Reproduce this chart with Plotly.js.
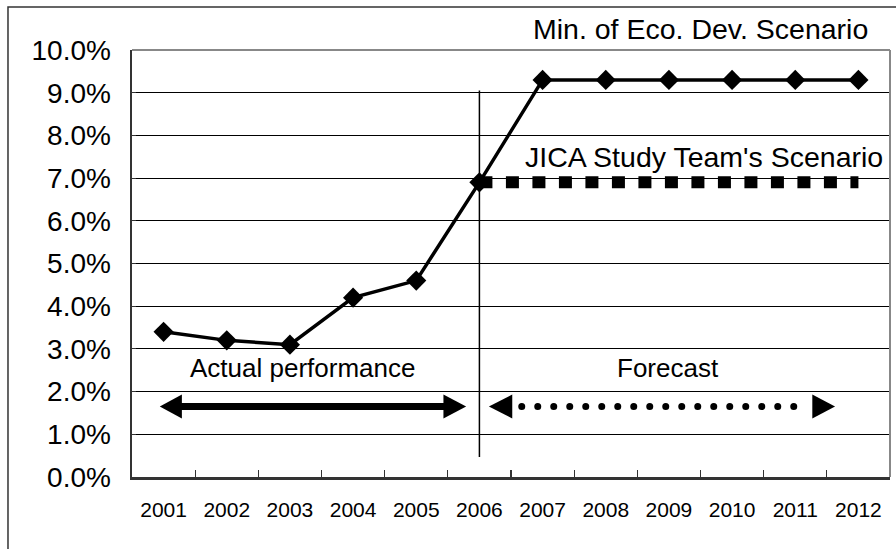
<!DOCTYPE html>
<html>
<head>
<meta charset="utf-8">
<script src="https://cdn.plot.ly/plotly-3.0.1.min.js"></script>
<style>
  html, body { margin: 0; padding: 0; background: #fff; }
  #chart { width: 896px; height: 549px; }
</style>
</head>
<body>
<div id="chart"></div>
<script>
// ---- data ----
const years = ['2001','2002','2003','2004','2005','2006','2007','2008','2009','2010','2011','2012'];
const minEcoDev = [3.4, 3.2, 3.1, 4.2, 4.6, 6.9, 9.3, 9.3, 9.3, 9.3, 9.3, 9.3];
const jicaStudy = [null, null, null, null, null, 6.9, 6.9, 6.9, 6.9, 6.9, 6.9, 6.9];
const yTicks = [0,1,2,3,4,5,6,7,8,9,10];
const yTickText = ['0.0%','1.0%','2.0%','3.0%','4.0%','5.0%','6.0%','7.0%','8.0%','9.0%','10.0%'];

const FONT = 'Liberation Sans, Arial, Helvetica, sans-serif';
const N = years.length;
// category index -> paper x
const px = i => (i + 0.5) / N;

function tri(tipIdx, baseIdx, y, h) {
  return 'M' + px(tipIdx) + ',' + y + ' L' + px(baseIdx) + ',' + (y + h) + ' L' + px(baseIdx) + ',' + (y - h) + ' Z';
}

const arrowY = 1.65, headH = 0.28;

const traces = [
  {
    x: years, y: jicaStudy, type: 'scatter', mode: 'lines',
    line: { color: '#000', width: 12, dash: '13px,13.5px' },
    hoverinfo: 'skip', showlegend: false
  },
  {
    x: years, y: minEcoDev, type: 'scatter', mode: 'lines+markers',
    line: { color: '#000', width: 3.5 },
    marker: { symbol: 'diamond', size: 15.5, color: '#000' },
    showlegend: false
  }
];

const shapes = [
  // outer border
  { type: 'rect', xref: 'paper', yref: 'paper', x0: -0.1636, x1: 1.02, y0: -0.4, y1: 1.1007,
    line: { color: '#333', width: 1.5 }, fillcolor: 'rgba(0,0,0,0)', layer: 'below' },
  // frame top & right (gray)
  { type: 'line', xref: 'paper', yref: 'paper', x0: 0, x1: 1, y0: 1, y1: 1, line: { color: '#888', width: 2 } },
  { type: 'line', xref: 'paper', yref: 'paper', x0: 1, x1: 1, y0: 0, y1: 1, line: { color: '#888', width: 2 } },
  // vertical divider at 2006
  { type: 'line', xref: 'paper', yref: 'y', x0: px(5), x1: px(5), y0: 0.47, y1: 9.05,
    line: { color: '#000', width: 1.5 } },
  // actual performance arrow
  { type: 'line', xref: 'paper', yref: 'y', x0: px(0.2), x1: px(4.5), y0: arrowY, y1: arrowY,
    line: { color: '#000', width: 7 } },
  { type: 'path', xref: 'paper', yref: 'y', path: tri(-0.06, 0.29, arrowY, headH), fillcolor: '#000', line: { width: 0 } },
  { type: 'path', xref: 'paper', yref: 'y', path: tri(4.79, 4.43, arrowY, headH), fillcolor: '#000', line: { width: 0 } },
  // forecast arrow (dotted)
  { type: 'line', xref: 'paper', yref: 'y', x0: px(5.67), x1: px(10.22), y0: arrowY, y1: arrowY,
    line: { color: '#000', width: 7, dash: '0.01px,15.99px' } },
  { type: 'path', xref: 'paper', yref: 'y', path: tri(5.15, 5.52, arrowY, headH), fillcolor: '#000', line: { width: 0 } },
  { type: 'path', xref: 'paper', yref: 'y', path: tri(10.63, 10.27, arrowY, headH), fillcolor: '#000', line: { width: 0 } }
];

const annotations = [
  { text: 'Min. of Eco. Dev. Scenario', xref: 'paper', yref: 'paper', x: 1.0, xanchor: 'right', xshift: -20,
    y: 1.05, yanchor: 'middle', showarrow: false, font: { family: FONT, size: 28.5, color: '#000' } },
  { text: "JICA Study Team's Scenario", xref: 'paper', yref: 'y', x: 1.0, xanchor: 'right', xshift: -5,
    y: 7.5, yanchor: 'middle', showarrow: false, font: { family: FONT, size: 28.5, color: '#000' } },
  { text: 'Actual performance', xref: 'paper', yref: 'y', x: px(2.2), xanchor: 'center',
    y: 2.55, yanchor: 'middle', showarrow: false, font: { family: FONT, size: 26, color: '#000' } },
  { text: 'Forecast', xref: 'paper', yref: 'y', x: px(7.98), xanchor: 'center',
    y: 2.55, yanchor: 'middle', showarrow: false, font: { family: FONT, size: 26, color: '#000' } }
];

const layout = {
  width: 896, height: 549,
  margin: { l: 132, r: 6, t: 50, b: 72, pad: 0 },
  paper_bgcolor: '#fff', plot_bgcolor: '#fff',
  showlegend: false,
  xaxis: {
    type: 'category', categoryorder: 'array', categoryarray: years,
    range: [-0.5, N - 0.5], autorange: false,
    tickson: 'boundaries', ticks: 'inside', ticklen: 7, tickwidth: 1.2, tickcolor: '#333',
    showline: true, linecolor: '#333', linewidth: 2.5,
    showgrid: false, zeroline: false,
    ticklabelstandoff: 12,
    tickfont: { family: FONT, size: 21, color: '#000' },
    fixedrange: true
  },
  yaxis: {
    range: [0, 10], autorange: false, tickmode: 'array', tickvals: yTicks, ticktext: yTickText,
    ticks: 'inside', ticklen: 4, tickcolor: '#333',
    showline: true, linecolor: '#333', linewidth: 2.5,
    showgrid: true, gridcolor: '#000', gridwidth: 1,
    zeroline: false,
    ticklabelstandoff: 13,
    tickfont: { family: FONT, size: 28, color: '#000' },
    fixedrange: true
  },
  shapes: shapes,
  annotations: annotations
};

Plotly.newPlot('chart', traces, layout, { staticPlot: true, displayModeBar: false }).then(function () {
  document.querySelectorAll('.shapelayer path').forEach(function (p) {
    const da = p.style.strokeDasharray || p.getAttribute('stroke-dasharray') || '';
    if (da.indexOf('0.01') !== -1) {
      p.style.strokeLinecap = 'round';
    }
  });
});
</script>
</body>
</html>
